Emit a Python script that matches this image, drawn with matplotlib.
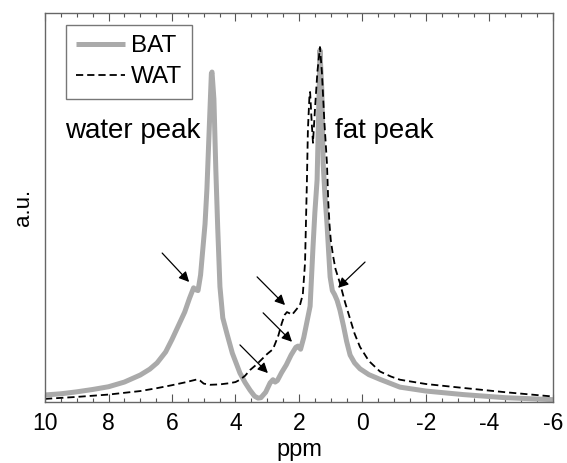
import matplotlib
matplotlib.use("Agg")
import matplotlib.pyplot as plt
from matplotlib.ticker import MultipleLocator

plt.rcParams['font.family'] = ['Liberation Sans', 'DejaVu Sans']

# BAT spectrum (ppm, a.u.)
bat_ppm = [10.0, 9.5, 9.0, 8.5, 8.0, 7.5, 7.0, 6.7, 6.47, 6.2, 6.0, 5.8, 5.6, 5.45,
           5.32, 5.25, 5.18, 5.10, 5.04, 4.96, 4.90, 4.82, 4.76, 4.74, 4.68, 4.62,
           4.56, 4.49, 4.40, 4.27, 4.10, 3.86, 3.70, 3.54, 3.40, 3.29, 3.20, 3.05,
           2.91, 2.82, 2.75, 2.68, 2.55, 2.40, 2.25, 2.10, 2.03, 1.95, 1.85, 1.75,
           1.65, 1.56, 1.50, 1.43, 1.38, 1.34, 1.28, 1.24, 1.18, 1.12, 1.06, 1.02,
           0.95, 0.88, 0.80, 0.71, 0.60, 0.50, 0.39, 0.25, 0.08, -0.2, -0.55, -1.18,
           -2.0, -3.17, -4.5, -6.0]
bat_val = [0.023, 0.026, 0.031, 0.037, 0.044, 0.056, 0.074, 0.089, 0.105, 0.133, 0.165, 0.20, 0.235, 0.27,
           0.297, 0.292, 0.29, 0.33, 0.386, 0.46, 0.55, 0.72, 0.845, 0.849, 0.78, 0.60,
           0.45, 0.30, 0.22, 0.18, 0.13, 0.079, 0.055, 0.035, 0.02, 0.015, 0.016, 0.03,
           0.054, 0.062, 0.056, 0.06, 0.08, 0.10, 0.125, 0.145, 0.148, 0.14, 0.17, 0.21,
           0.25, 0.40, 0.49, 0.573, 0.75, 0.905, 0.80, 0.616, 0.53, 0.463, 0.38, 0.325,
           0.29, 0.28, 0.265, 0.24, 0.20, 0.16, 0.125, 0.105, 0.09, 0.075, 0.063, 0.043,
           0.033, 0.024, 0.016, 0.011]

# WAT spectrum (ppm, a.u.)
wat_ppm = [10.0, 9.0, 8.0, 7.0, 6.5, 6.0, 5.6, 5.35, 5.2, 5.12, 5.0, 4.8, 4.5, 4.2,
           4.0, 3.86, 3.7, 3.54, 3.35, 3.2, 3.0, 2.82, 2.65, 2.54, 2.45, 2.38, 2.30,
           2.22, 2.1, 1.97, 1.88, 1.81, 1.75, 1.72, 1.67, 1.65, 1.60, 1.56, 1.50,
           1.42, 1.34, 1.28, 1.2, 1.12, 1.08, 1.04, 1.0, 0.93, 0.85, 0.71, 0.55,
           0.4, 0.25, 0.08, -0.2, -0.55, -0.9, -1.18, -2.0, -3.17, -4.5, -6.0]
wat_val = [0.013, 0.018, 0.024, 0.033, 0.040, 0.048, 0.055, 0.06, 0.063, 0.06, 0.052, 0.049, 0.05, 0.053,
           0.056, 0.062, 0.072, 0.087, 0.10, 0.112, 0.128, 0.14, 0.175, 0.207, 0.228, 0.235, 0.232,
           0.228, 0.24, 0.253, 0.28, 0.361, 0.573, 0.70, 0.79, 0.798, 0.72, 0.668, 0.75,
           0.85, 0.913, 0.85, 0.72, 0.616, 0.52, 0.46, 0.42, 0.38, 0.345, 0.309, 0.26,
           0.22, 0.18, 0.146, 0.11, 0.083, 0.07, 0.062, 0.051, 0.041, 0.03, 0.019]

# Arrow annotations: (tail ppm, tail a.u., head ppm, head a.u.)
arrows = [(6.31, 0.386, 5.46, 0.312),
          (3.32, 0.325, 2.44, 0.253),
          (3.13, 0.233, 2.22, 0.159),
          (3.86, 0.151, 2.98, 0.079),
          (-0.08, 0.363, 0.77, 0.297)]

labels = [("water peak", 9.37, 0.680), ("fat peak", 0.87, 0.680)]
xticks = [10, 8, 6, 4, 2, 0, -2, -4, -6]

fig = plt.figure(figsize=(5.67, 4.63), dpi=100)
ax = fig.add_axes([45/567, 1-402/463, 508/567, 389/463])

ax.plot(bat_ppm, bat_val, color='#aaaaaa', lw=3.6, label='BAT',
        solid_joinstyle='round', solid_capstyle='butt')
ax.plot(wat_ppm, wat_val, color='black', lw=1.3, ls=(0, (4, 2.2)), label='WAT')

for x0, y0, x1, y1 in arrows:
    ax.annotate('', xy=(x1, y1), xytext=(x0, y0),
                arrowprops=dict(arrowstyle='-|>', color='black', lw=0.9,
                                mutation_scale=15, shrinkA=0, shrinkB=0))

for txt, x, y in labels:
    ax.text(x, y, txt, fontsize=20, ha='left', va='baseline')

ax.set_xlim(10, -6)
ax.set_ylim(0.005, 1.0)
ax.set_xticks(xticks)
ax.set_xticklabels([str(t) for t in xticks])
ax.xaxis.set_minor_locator(MultipleLocator(0.5))
ax.set_yticks([])
ax.tick_params(axis='x', which='major', direction='in', length=6, width=0.8,
               top=True, labelsize=16.5, pad=7, color='#555555')
ax.tick_params(axis='x', which='minor', direction='in', length=3, width=0.8,
               top=True, color='#555555')
for s in ax.spines.values():
    s.set_color('#666666')
    s.set_linewidth(1.0)

ax.set_xlabel('ppm', fontsize=17, labelpad=3)
ax.set_ylabel('a.u.', fontsize=16, labelpad=8)

leg = ax.legend(loc='upper left', bbox_to_anchor=(21/508, 1-12/389), borderaxespad=0,
                fontsize=17.5, frameon=True, fancybox=False, labelspacing=0.38,
                borderpad=0.42, handlelength=2.0, handletextpad=0.25)
leg.get_frame().set_edgecolor('#555555')
leg.get_frame().set_linewidth(1.0)

fig.savefig('out.png', dpi=100)
